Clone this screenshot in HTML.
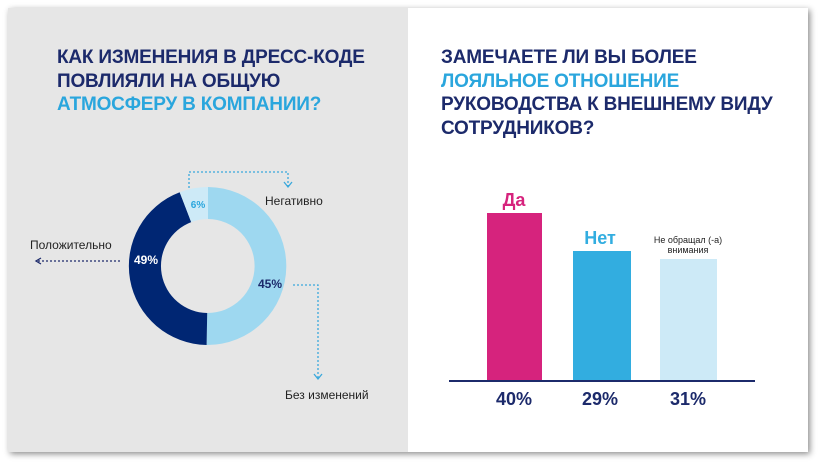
<!DOCTYPE html>
<html><head><meta charset="utf-8"><style>
body{margin:0;width:820px;height:465px;background:#fff;overflow:hidden;font-family:"Liberation Sans","DejaVu Sans",sans-serif}
.card{position:absolute;left:8px;top:8px;width:800px;height:444px;box-shadow:2px 2px 6px rgba(0,0,0,.45);background:#fff}
.left{position:absolute;left:8px;top:8px;width:400px;height:444px;background:#e6e6e6}
.t{position:absolute;font-weight:bold;font-size:19px;line-height:23.5px;color:#1c2a6b;letter-spacing:-0.2px}
.b{color:#2aa6dd}
</style></head><body>
<div class="card"></div><div class="left"></div>
<div class="t" style="left:57px;top:46px">КАК ИЗМЕНЕНИЯ В ДРЕСС-КОДЕ<br>ПОВЛИЯЛИ НА ОБЩУЮ<br><span class="b">АТМОСФЕРУ В КОМПАНИИ?</span></div>
<div class="t" style="left:441px;top:46px">ЗАМЕЧАЕТЕ ЛИ ВЫ БОЛЕЕ<br><span class="b">ЛОЯЛЬНОЕ ОТНОШЕНИЕ</span><br>РУКОВОДСТВА К ВНЕШНЕМУ ВИДУ<br>СОТРУДНИКОВ?</div>
<svg width="820" height="465" style="position:absolute;left:0;top:0" font-family="Liberation Sans, DejaVu Sans, sans-serif">
<path d="M208,187 A79,79 0 1 1 206.6,345 L207.2,313 A47,47 0 1 0 208,219 Z" fill="#9ed8f0"/>
<path d="M206.6,345 A79,79 0 0 1 179.7,192.2 L191.2,222.1 A47,47 0 0 0 207.2,313 Z" fill="#002673"/>
<path d="M179.7,192.2 A79,79 0 0 1 208,187 L208,219 A47,47 0 0 0 191.2,222.1 Z" fill="#cdeaf7"/>
<g stroke="#3aa8dc" stroke-width="1.3" stroke-dasharray="2,2" fill="none">
<path d="M189,188 V172 H288 V186"/>
<path d="M293,285 H318 V378"/>
</g>
<path d="M284,182 L288,187 L292,182 M314,374 L318,379 L322,374" stroke="#3aa8dc" stroke-width="1.3" fill="none"/>
<path d="M120,261 H38" stroke="#1c2a6b" stroke-width="1.3" stroke-dasharray="2,2"/>
<path d="M41,258 L36,261 L41,264" stroke="#1c2a6b" stroke-width="1.3" fill="none"/>
<text x="198" y="208" font-size="10" font-weight="bold" fill="#2aa6dd" text-anchor="middle">6%</text>
<text x="146" y="264" font-size="12" font-weight="bold" fill="#fff" text-anchor="middle">49%</text>
<text x="270" y="288" font-size="12" font-weight="bold" fill="#1c2a6b" text-anchor="middle">45%</text>
<text x="265" y="205" font-size="12" fill="#222">Негативно</text>
<text x="30" y="249" font-size="12" fill="#222">Положительно</text>
<text x="285" y="399" font-size="12" fill="#222">Без изменений</text>
<rect x="487" y="213" width="55" height="168" fill="#d6237d"/>
<rect x="573" y="251" width="58" height="130" fill="#32ade0"/>
<rect x="660" y="259" width="57" height="122" fill="#cdeaf7"/>
<line x1="449" y1="381" x2="755" y2="381" stroke="#1c2a6b" stroke-width="2"/>
<text x="514" y="206" font-size="18" font-weight="bold" fill="#d6237d" text-anchor="middle">Да</text>
<text x="600" y="244" font-size="18" font-weight="bold" fill="#32ade0" text-anchor="middle">Нет</text>
<text x="688" y="243" font-size="9" fill="#222" text-anchor="middle">Не обращал (-а)</text>
<text x="688" y="253" font-size="9" fill="#222" text-anchor="middle">внимания</text>
<text x="514" y="405" font-size="18" font-weight="bold" fill="#1c2a6b" text-anchor="middle">40%</text>
<text x="600" y="405" font-size="18" font-weight="bold" fill="#1c2a6b" text-anchor="middle">29%</text>
<text x="688" y="405" font-size="18" font-weight="bold" fill="#1c2a6b" text-anchor="middle">31%</text>
</svg>
</body></html>
